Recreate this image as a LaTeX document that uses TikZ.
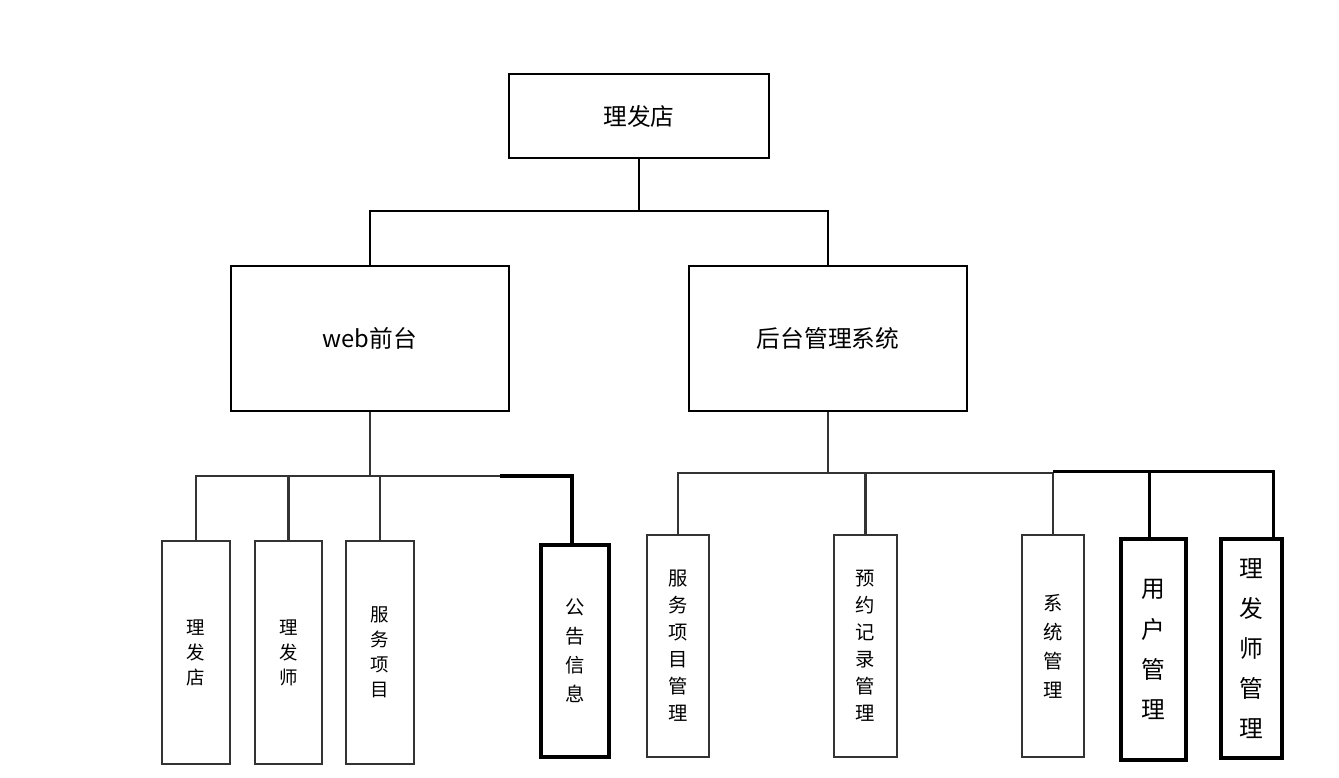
\documentclass[tikz,border=0pt]{standalone}
\usepackage{fontspec}
\newfontfamily\cjk{Noto Sans CJK SC}
\usepackage{tikz}
\usetikzlibrary{calc}

\begin{document}
\begin{tikzpicture}[
				mainbox/.style={
					rectangle, draw=black, line width=1.6pt,
					align=center, font=\cjk\fontsize{13.5}{16}\selectfont
				},
				leafbox/.style={
					rectangle, draw=black!80, line width=1.6pt,
					minimum width=1.36cm, minimum height=4.46cm,
					align=center, font=\cjk\fontsize{10.5}{14.2}\selectfont
				},
				boldleaf/.style={
					leafbox, draw=black, line width=2.6pt,
					font=\cjk\fontsize{13.5}{22.8}\selectfont
				},
				link/.style={draw=black!80, line width=1.6pt},
				boldlink/.style={draw=black, line width=2.2pt}
				]
				
				\useasboundingbox (0,0) rectangle (26.78,-15.56);
				
				% root
				\node[mainbox, minimum width=5.2cm, minimum height=1.68cm] (root) at (12.78,-2.32) {理发店};
				
				% web front end
				\node[mainbox, minimum width=5.56cm, minimum height=2.9cm] (web) at (7.4,-6.77) {web前台};
				
				% back end
				\node[mainbox, minimum width=5.56cm, minimum height=2.9cm] (admin) at (16.56,-6.77) {后台管理系统};
				
				% web leaves
				\node[leafbox] (shop) at (3.92,-13.05) {理\\发\\店};
				\node[leafbox, minimum width=1.34cm] (barber) at (5.77,-13.05) {理\\发\\师};
				\node[leafbox] (service) at (7.6,-13.05) {服\\务\\项\\目};
				\node[leafbox, draw=black, line width=2.4pt, minimum height=4.24cm,
					font=\cjk\fontsize{11}{16.5}\selectfont] (notice) at (11.5,-13.02) {公\\告\\信\\息};
				
				% admin leaves
				\node[leafbox, minimum width=1.24cm, minimum height=4.44cm,
					font=\cjk\fontsize{11}{15.4}\selectfont] (serviceAdm) at (13.56,-12.92) {服\\务\\项\\目\\管\\理};
				\node[leafbox, minimum width=1.26cm, minimum height=4.44cm,
					font=\cjk\fontsize{11}{15.4}\selectfont] (bookingAdm) at (17.31,-12.92) {预\\约\\记\\录\\管\\理};
				\node[leafbox, minimum width=1.24cm, minimum height=4.44cm,
					font=\cjk\fontsize{11}{16.5}\selectfont] (systemAdm) at (21.06,-12.92) {系\\统\\管\\理};
				\node[boldleaf, minimum width=1.3cm, minimum height=4.42cm] (userAdm) at (23.07,-12.99) {用\\户\\管\\理};
				\node[boldleaf, minimum width=1.22cm, minimum height=4.38cm] (barberAdm) at (25.03,-12.97) {理\\发\\师\\管\\理};
				
				% bus lines
				\coordinate (topBus) at (12.78,-4.22);
				\coordinate (webBus) at (7.4,-9.52);
				\coordinate (adminBus) at (16.56,-9.46);
				\coordinate (userTop) at ([xshift=-0.08cm]userAdm.north);
				\coordinate (barberTop) at ([xshift=0.44cm]barberAdm.north);
				\coordinate (noticeTop) at ([xshift=-0.06cm]notice.north);
				
				% root to second level
				\draw[link, draw=black] (root) -- (topBus);
				\draw[link, draw=black] (topBus) -| (web);
				\draw[link, draw=black] (topBus) -| (admin);
				
				% web to leaves
				\draw[link] (web) -- (webBus);
				\draw[link] (webBus) -| (shop);
				\draw[link] (webBus -| barber.north) -- (barber);
				\draw[link] (webBus -| service.north) -- (service);
				\draw[link] (webBus) -- ($(webBus)+(2.6,0)$);
				\draw[boldlink] ($(webBus)+(2.6,0)$) -| (noticeTop);
				
				% admin to leaves
				\draw[link] (admin) -- (adminBus);
				\draw[link] (adminBus) -| (serviceAdm);
				\draw[link] (adminBus -| bookingAdm.north) -- (bookingAdm);
				\draw[link] (adminBus) -| (systemAdm);
				\draw[boldlink] ($(adminBus -| systemAdm.north)+(0,0.03)$) -| (barberTop);
				\draw[boldlink] (adminBus -| userTop) -- (userTop);
			\end{tikzpicture}
\end{document}
